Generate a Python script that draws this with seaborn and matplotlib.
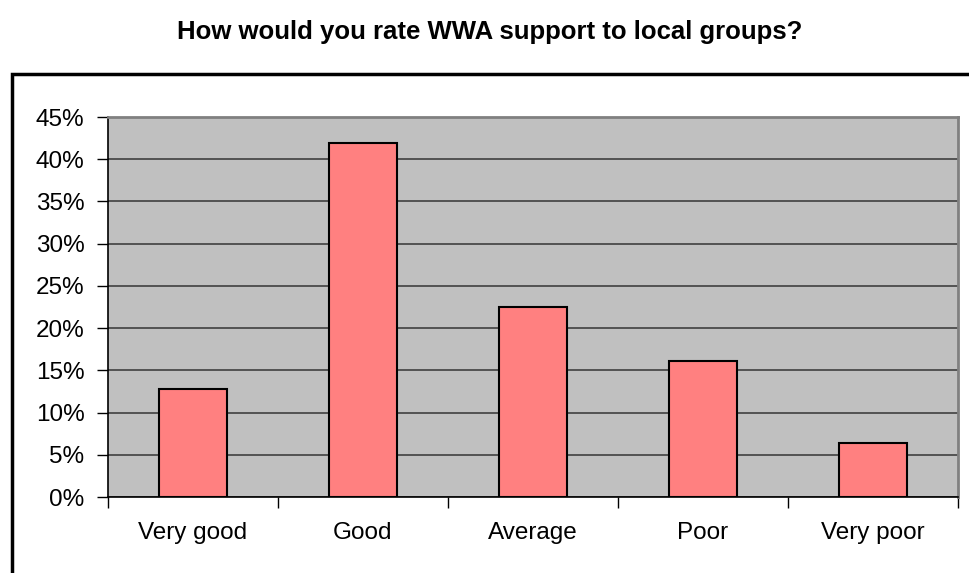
import matplotlib
matplotlib.use("Agg")
import matplotlib.pyplot as plt
import seaborn as sns
import pandas as pd
from matplotlib.ticker import PercentFormatter, FixedLocator
from matplotlib.patches import Rectangle

categories = ["Very good", "Good", "Average", "Poor", "Very poor"]
values = [12.8, 41.9, 22.5, 16.1, 6.4]
y_ticks = [0, 5, 10, 15, 20, 25, 30, 35, 40, 45]
title = "How would you rate WWA support to local groups?"

df = pd.DataFrame({"category": categories, "value": values})

sns.set_theme(style="white")
plt.rcParams['font.family'] = ['Liberation Sans', 'DejaVu Sans']

W, H = 970, 573
fig = plt.figure(figsize=(W / 100, H / 100), dpi=100)
ax = fig.add_axes([108 / W, 1 - 497 / H, (958 - 108) / W, (497 - 117) / H])

ax.set_facecolor("#C0C0C0")
sns.barplot(data=df, x="category", y="value", ax=ax, color="#FF8080",
            saturation=1, width=0.4, edgecolor="black", linewidth=1.5, zorder=3)

ax.set_xlim(-0.5, len(categories) - 0.5)
ax.set_ylim(0, 45)
ax.set_yticks(y_ticks)
ax.yaxis.set_major_formatter(PercentFormatter(decimals=0))
ax.yaxis.grid(True, color="#404040", linewidth=1.2, zorder=1)
ax.set_axisbelow(True)

# category tick marks between categories
ax.set_xticks(range(len(categories)))
ax.set_xticklabels(categories)
ax.xaxis.set_minor_locator(FixedLocator([i - 0.5 for i in range(len(categories) + 1)]))
ax.tick_params(axis="x", which="major", length=0, pad=18, labelsize=17.5, colors="black")
ax.tick_params(axis="x", which="minor", length=8, width=1, color="black", bottom=True)
ax.tick_params(axis="y", which="major", length=8, width=1, color="black", left=True,
               labelsize=17.5, pad=9, labelcolor="black")

ax.set_xlabel("")
ax.set_ylabel("")

for s in ["left", "bottom"]:
    ax.spines[s].set_visible(True)
    ax.spines[s].set_color("black")
    ax.spines[s].set_linewidth(1.2)
for s in ["top", "right"]:
    ax.spines[s].set_visible(True)
    ax.spines[s].set_color("#808080")
    ax.spines[s].set_linewidth(2)

# outer chart frame
fig.patches.append(Rectangle((12 / W, -0.05), 1.05, 1 - 74 / H + 0.05,
                             transform=fig.transFigure, fill=False,
                             edgecolor="black", linewidth=2.5))

fig.text(490 / W, 1 - 32 / H, title, ha="center", va="center",
         fontsize=18.5, fontweight="bold", color="black")

fig.savefig("out.png", dpi=100, facecolor="white")
